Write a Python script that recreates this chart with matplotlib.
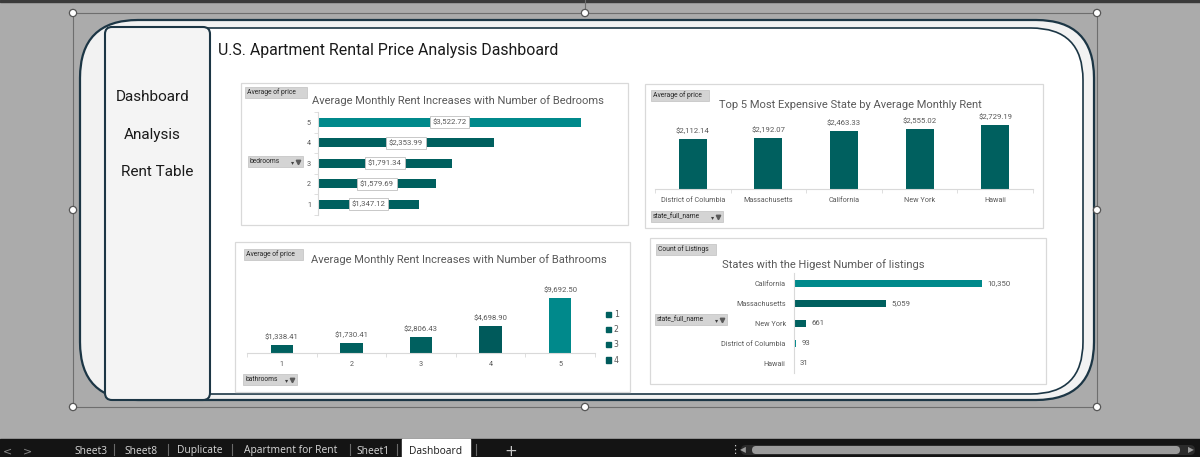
import matplotlib
matplotlib.use("Agg")
import matplotlib.pyplot as plt
from matplotlib.patches import FancyBboxPatch, Rectangle, Circle, Patch
from matplotlib import font_manager as fm

# ---------------- data ----------------
nav_items = ["Dashboard", "Analysis", "Rent Table"]
dashboard_title = "U.S. Apartment Rental Price Analysis Dashboard"

bedrooms = [1, 2, 3, 4, 5]
bedroom_price = [1347.12, 1579.69, 1791.34, 2353.99, 3522.72]

top_states = ["District of Columbia", "Massachusetts", "California", "New York", "Hawaii"]
top_state_price = [2112.14, 2192.07, 2463.33, 2555.02, 2729.19]

bathrooms = [1, 2, 3, 4, 5]
bathroom_price = [1338.41, 1730.41, 2806.43, 4698.90, 9692.50]

listing_states = ["California", "Massachusetts", "New York", "District of Columbia", "Hawaii"]
listing_counts = [10350, 5059, 661, 93, 31]

sheet_tabs = ["Sheet3", "Sheet8", "Duplicate", "Apartment for Rent", "Sheet1", "Dashboard"]

# ---------------- style ----------------
W, H = 1200, 457


def has_font(name):
    try:
        fm.findfont(fm.FontProperties(family=name), fallback_to_default=False)
        return True
    except Exception:
        return False


NARROW = 'Liberation Sans Narrow' if has_font('Liberation Sans Narrow') else 'Roboto'
MAIN = 'Roboto' if has_font('Roboto') else 'DejaVu Sans'
UI = 'Open Sans' if has_font('Open Sans') else 'DejaVu Sans'

DARK = '#00605F'
DARKER = '#005A5B'
LIGHT = '#00898B'
EDGE = '#1C3645'
GRID = '#D9D9D9'
TXT = '#595959'

bed_colors = [DARK, DARK, DARK, DARK, LIGHT]
bath_colors = [DARK, DARK, DARK, DARKER, LIGHT]
list_colors = [LIGHT, DARK, DARK, LIGHT, LIGHT]

fig = plt.figure(figsize=(12, 4.57), dpi=100)
fig.patch.set_facecolor('#ABABAB')
bg = fig.add_axes([0, 0, 1, 1])
bg.set_xlim(0, W)
bg.set_ylim(H, 0)
bg.axis('off')
bg.set_zorder(0)


def rrect(x0, y0, x1, y1, r, fc, ec, lw, z=1):
    p = FancyBboxPatch((x0, y0), x1 - x0, y1 - y0,
                       boxstyle=f"round,pad=0,rounding_size={r}",
                       fc=fc, ec=ec, lw=lw, zorder=z)
    bg.add_patch(p)
    return p


# top strip
bg.add_patch(Rectangle((0, 0), W, 1.5, color='#3A3A3A', zorder=1))

# selection frame and handles
bg.add_patch(Rectangle((73, 13), 1024, 394, fill=False, ec='#6E6E6E', lw=0.8, zorder=1))
bg.plot([585, 585], [0, 9], color='#6E6E6E', lw=0.8, zorder=1)

# big rounded shapes
rrect(80, 20, 1094, 400, 58, '#F2F2F2', EDGE, 1.6, z=2)
rrect(150, 28, 1083, 394, 52, 'white', EDGE, 1.2, z=3)
# left navigation panel
rrect(105, 27, 210, 400, 7, '#F4F4F4', EDGE, 1.5, z=4)
nav_y = [97, 135, 172]
nav_x = [153, 152, 157]
for t, x, y in zip(nav_items, nav_x, nav_y):
    bg.text(x, y, t, ha='center', va='center', fontsize=11, color='#1A1A1A',
            family=MAIN, zorder=5)

bg.text(218, 51, dashboard_title, ha='left', va='center', fontsize=11.4,
        color='#1A1A1A', family=MAIN, zorder=5)

for (hx, hy) in [(73, 13), (585, 13), (1097, 13), (73, 210), (1097, 210),
                 (73, 407), (585, 407), (1097, 407)]:
    bg.add_patch(Circle((hx, hy), 3.6, fc='white', ec='#555555', lw=0.9, zorder=6))

# chart boxes
for (x0, y0, x1, y1) in [(241, 83, 628, 225), (645, 84, 1043, 228),
                         (235, 242, 630, 392), (650, 238, 1046, 384)]:
    bg.add_patch(Rectangle((x0, y0), x1 - x0, y1 - y0, fc='white', ec=GRID, lw=0.9, zorder=5))


def button(x0, y0, x1, y1, text, funnel=False):
    bg.add_patch(Rectangle((x0, y0), x1 - x0, y1 - y0, fc='#D4D4D4', ec='#C0C0C0',
                           lw=0.5, zorder=6))
    bg.text(x0 + 2, (y0 + y1) / 2, text, ha='left', va='center', fontsize=4.9,
            color='#262626', family=NARROW, zorder=7)
    if funnel:
        bg.text(x1 - 10, (y0 + y1) / 2 + 1, '▾', ha='center', va='center', fontsize=4.5,
                color='#404040', zorder=7)
        bg.plot([x1 - 5.5], [(y0 + y1) / 2], marker='v', ms=3.2, color='#5A5A5A',
                zorder=7, clip_on=False)


button(245, 87, 307, 98, 'Average of price')
button(248, 156, 303, 167, 'bedrooms', funnel=True)
button(651, 90, 709, 101, 'Average of price')
button(651, 211, 723, 222, 'state_full_name', funnel=True)
button(244, 249, 303, 260, 'Average of price')
button(243, 374, 297, 385, 'bathrooms', funnel=True)
button(656, 244, 716, 255, 'Count of Listings')
button(655, 314, 727, 325, 'state_full_name', funnel=True)

# chart titles
title_kw = dict(fontsize=8.0, color=TXT, family=NARROW, zorder=7, va='center')
bg.text(458, 101, "Average Monthly Rent Increases with Number of Bedrooms", ha='center', **title_kw)
bg.text(850, 105, "Top 5 Most Expensive State by Average Monthly Rent", ha='center', **title_kw)
bg.text(459, 260, "Average Monthly Rent Increases with Number of Bathrooms", ha='center', **title_kw)
bg.text(722, 265, "States with the Higest Number of listings", ha='left', **title_kw)

# bottom sheet bar
bg.add_patch(Rectangle((0, 439), W, 18, color='#141414', zorder=8))
bg.add_patch(Rectangle((402, 438.5), 68, 19, color='white', zorder=9))
tab_x = [91, 141, 200, 291, 373, 436]
for t, x in zip(sheet_tabs, tab_x):
    c = '#1A1A1A' if t == 'Dashboard' else '#D8D8D8'
    bg.text(x, 451, t, ha='center', va='center', fontsize=7.4, color=c, family=UI, zorder=10)
for sx in [114, 168, 232, 350, 397, 476]:
    bg.plot([sx, sx], [444, 455], color='#6A6A6A', lw=0.8, zorder=10)
bg.text(8, 451, '<', ha='center', va='center', fontsize=8, color='#8A8A8A', zorder=10)
bg.text(27, 451, '>', ha='center', va='center', fontsize=8, color='#8A8A8A', zorder=10)
bg.text(511, 451, '+', ha='center', va='center', fontsize=11, color='#C8C8C8', zorder=10)
bg.text(735, 450, '⋮', ha='center', va='center', fontsize=8, color='#C8C8C8', zorder=10)
bg.add_patch(FancyBboxPatch((741, 445), 454, 10, boxstyle="round,pad=0,rounding_size=5",
                            fc='#2B2B2B', ec='none', zorder=10))
bg.add_patch(FancyBboxPatch((752, 446), 428, 8, boxstyle="round,pad=0,rounding_size=4",
                            fc='#9C9C9C', ec='none', zorder=11))
bg.text(743, 450, '◀', ha='center', va='center', fontsize=5.5, color='#9C9C9C', zorder=11)
bg.text(1191, 450, '▶', ha='center', va='center', fontsize=5.5, color='#9C9C9C', zorder=11)


def px_axes(x0, y0, x1, y1):
    ax = fig.add_axes([x0 / W, 1 - y1 / H, (x1 - x0) / W, (y1 - y0) / H])
    ax.patch.set_alpha(0)
    ax.set_zorder(2)
    for s in ax.spines.values():
        s.set_visible(False)
    return ax


small = dict(fontsize=5.2, color=TXT, family=NARROW)
LBL = 5.6

# ---- chart 1: bedrooms (horizontal bars)
ax1 = px_axes(318, 112, 616.6, 214.5)
ax1.barh(bedrooms, bedroom_price, height=0.44, color=bed_colors)
ax1.set_xlim(0, 4000)
ax1.set_ylim(0.5, 5.5)
ax1.spines['left'].set_visible(True)
ax1.spines['left'].set_color(GRID)
ax1.set_xticks([])
ax1.set_yticks(bedrooms)
ax1.set_yticklabels([str(b) for b in bedrooms], **small)
ax1.set_yticks([b + 0.5 for b in [0] + bedrooms], minor=True)
ax1.tick_params(axis='y', which='major', length=0, pad=5)
ax1.tick_params(axis='y', which='minor', length=3, color=GRID)
for b, v in zip(bedrooms, bedroom_price):
    ax1.text(v / 2, b, f"${v:,.2f}", ha='center', va='center', fontsize=LBL, color=TXT,
             family=NARROW,
             bbox=dict(boxstyle='square,pad=0.35', fc='white', ec='#BFBFBF', lw=0.6))

# ---- chart 2: top 5 states (columns)
ax2 = px_axes(655, 114, 1033, 189)
xs2 = list(range(len(top_states)))
ax2.bar(xs2, top_state_price, width=0.37, color=DARK)
ax2.set_xlim(-0.5, len(top_states) - 0.5)
ax2.set_ylim(0, 3200)
ax2.spines['bottom'].set_visible(True)
ax2.spines['bottom'].set_color(GRID)
ax2.set_yticks([])
ax2.set_xticks(xs2)
ax2.set_xticklabels(top_states, **small)
ax2.set_xticks([x - 0.5 for x in xs2] + [xs2[-1] + 0.5], minor=True)
ax2.tick_params(axis='x', which='major', length=0, pad=6)
ax2.tick_params(axis='x', which='minor', length=3, color=GRID)
for x, v in zip(xs2, top_state_price):
    ax2.annotate(f"${v:,.2f}", (x, v), xytext=(0, 3.5), textcoords='offset points',
                 ha='center', va='bottom', fontsize=LBL, color=TXT, family=NARROW)

# ---- chart 3: bathrooms (columns)
ax3 = px_axes(247, 290.6, 595, 353)
xs3 = list(range(len(bathrooms)))
ax3.bar(xs3, bathroom_price, width=0.32, color=bath_colors)
ax3.set_xlim(-0.5, len(bathrooms) - 0.5)
ax3.set_ylim(0, 11000)
ax3.spines['bottom'].set_visible(True)
ax3.spines['bottom'].set_color(GRID)
ax3.set_yticks([])
ax3.set_xticks(xs3)
ax3.set_xticklabels([str(b) for b in bathrooms], **small)
ax3.set_xticks([x - 0.5 for x in xs3] + [xs3[-1] + 0.5], minor=True)
ax3.tick_params(axis='x', which='major', length=0, pad=6)
ax3.tick_params(axis='x', which='minor', length=3, color=GRID)
for x, v in zip(xs3, bathroom_price):
    ax3.annotate(f"${v:,.2f}", (x, v), xytext=(0, 3.5), textcoords='offset points',
                 ha='center', va='bottom', fontsize=LBL, color=TXT, family=NARROW)
leg = ax3.legend(handles=[Patch(color=c) for c in bath_colors[:4]],
                 labels=[str(b) for b in bathrooms[:4]],
                 loc='upper left', bbox_to_anchor=(606 / W, 1 - 310 / H),
                 bbox_transform=fig.transFigure, frameon=False, fontsize=5.6,
                 handlelength=0.7, handleheight=0.7, handletextpad=0.3,
                 labelspacing=0.8, borderpad=0, borderaxespad=0)
for t in leg.get_texts():
    t.set_color(TXT)

# ---- chart 4: listings (horizontal bars)
ax4 = px_axes(794, 273, 1012, 373)
ys4 = list(range(len(listing_states)))
ax4.barh(ys4, listing_counts, height=0.35, color=list_colors)
ax4.set_xlim(0, 12000)
ax4.set_ylim(len(listing_states) - 0.5, -0.5)
ax4.spines['left'].set_visible(True)
ax4.spines['left'].set_color(GRID)
ax4.set_xticks([])
ax4.set_yticks(ys4)
ax4.set_yticklabels(listing_states, **small)
ax4.tick_params(axis='y', which='major', length=0, pad=6)
for y, v in zip(ys4, listing_counts):
    ax4.annotate(f"{v:,}", (v, y), xytext=(4, 0), textcoords='offset points',
                 ha='left', va='center', fontsize=LBL, color=TXT, family=NARROW)

fig.savefig('out.png', dpi=100, facecolor=fig.get_facecolor())
